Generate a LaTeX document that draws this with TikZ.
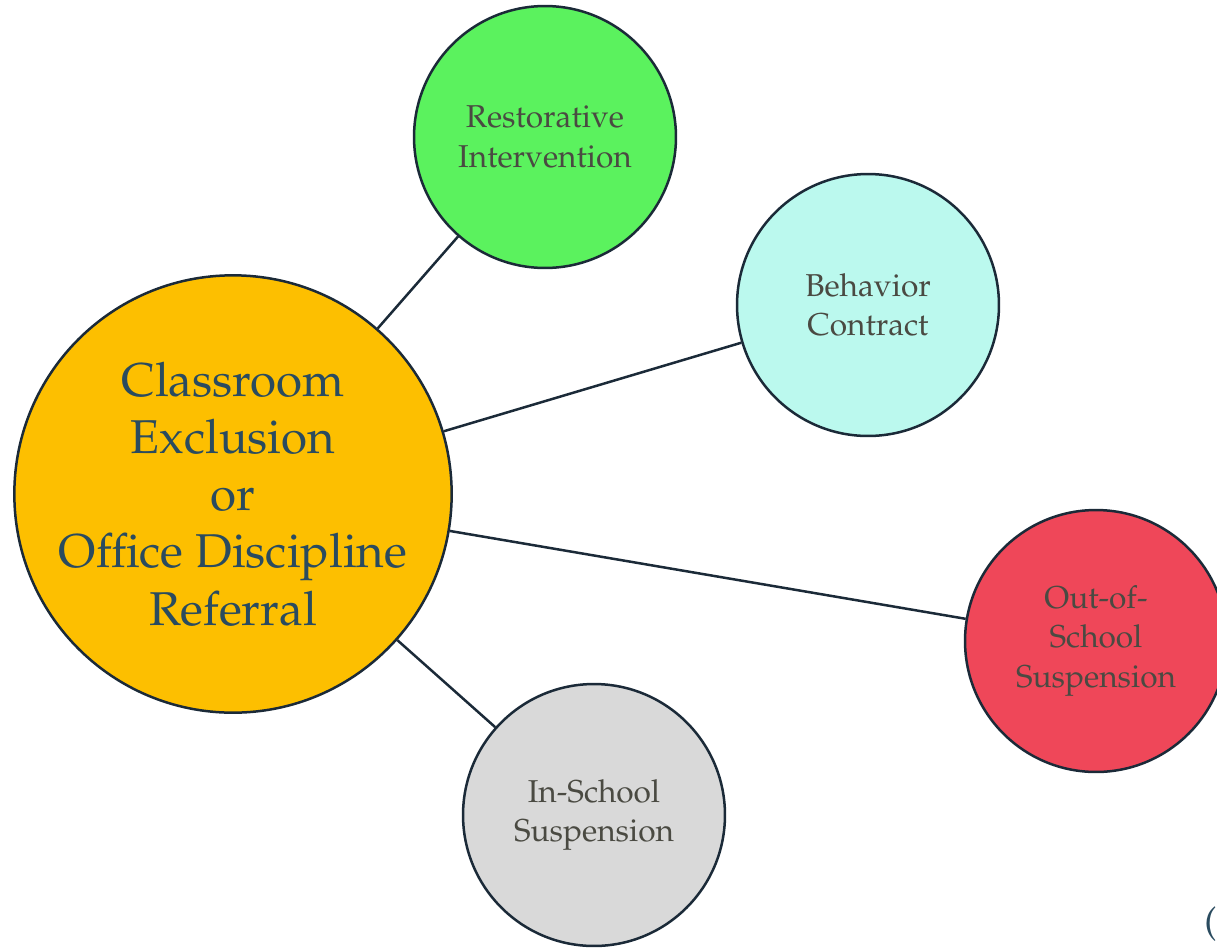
\documentclass[tikz,border=0pt]{standalone}
\usepackage[T1]{fontenc}
\renewcommand{\rmdefault}{ppl}
\usepackage{tikz}
\definecolor{rimcol}{HTML}{1B2A38}
\definecolor{bigtext}{HTML}{2A4B5F}
\definecolor{smalltext}{HTML}{4A4A42}
\definecolor{yellowfill}{HTML}{FDBF00}
\definecolor{greenfill}{HTML}{5BF25E}
\definecolor{cyanfill}{HTML}{BBF9EE}
\definecolor{redfill}{HTML}{EF4759}
\definecolor{grayfill}{HTML}{D9D9D9}
\tikzset{
	bubble/.style={circle, draw=rimcol, line width=0.05cm, minimum size=5.24cm, inner sep=0pt, align=center, text=smalltext, font=\fontsize{18}{22.6}\selectfont},
	link/.style={draw=rimcol, line width=0.05cm}
}

\begin{document}
\begin{tikzpicture}[x=0.02cm, y=-0.02cm]
		%%%%% START %%%%%
		
		\useasboundingbox (0, 0) rectangle (1217, 947);
		\clip (0, 0) rectangle (1217, 947);
		
		\node[bubble, minimum size=8.72cm, fill=yellowfill, text=bigtext, font=\fontsize{27}{32.6}\selectfont] (referral) at (233, 494) {Classroom\\Exclusion\\or\\Office Discipline\\Referral};
		
		\node[bubble, fill=greenfill] (restorative) at (545, 137) {Restorative\\Intervention};
		\node[bubble, fill=cyanfill] (contract) at (868, 305) {Behavior\\Contract};
		\node[bubble, fill=redfill] (outschool) at (1096, 641) {Out-of-\\School\\Suspension};
		\node[bubble, fill=grayfill] (inschool) at (594, 815) {In-School\\Suspension};
		
		\draw[link] (referral) -- (restorative);
		\draw[link] (referral) -- (contract);
		\draw[link] (referral) -- (outschool);
		\draw[link] (referral) -- (inschool);
		
		\node[text=bigtext, font=\fontsize{21}{24}\selectfont, anchor=west, inner sep=0pt] (paren) at (1204, 924) {(};
		
		%%%%% END %%%%%
\end{tikzpicture}
\end{document}
